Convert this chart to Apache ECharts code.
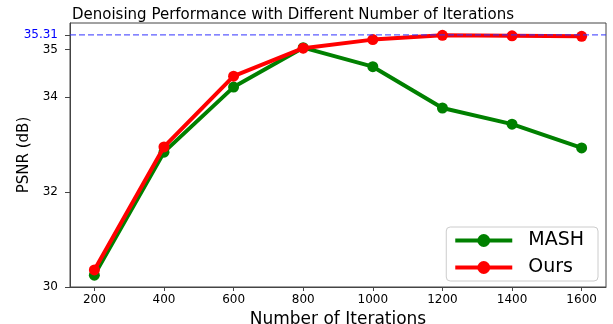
<!DOCTYPE html>
<html>
<head>
<meta charset="utf-8">
<script src="https://cdn.jsdelivr.net/npm/echarts@6/dist/echarts.min.js"></script>
<style>
  html, body { margin: 0; padding: 0; background: #fff; }
  #chart { width: 613px; height: 324px; }
</style>
</head>
<body>
<div id="chart"></div>
<script>
// iterations on x
var iterations = [200, 400, 600, 800, 1000, 1200, 1400, 1600];
var mashPsnr = [30.25, 32.84, 34.21, 35.04, 34.64, 33.77, 33.43, 32.93];
var oursPsnr = [30.36, 32.95, 34.44, 35.03, 35.21, 35.30, 35.29, 35.28];
var bestPsnr = 35.31;
var yTicks = [30, 32, 34, 35, 35.31];
var xTicks = [200, 400, 600, 800, 1000, 1200, 1400, 1600];
var xMin = 130, xMax = 1670;

var pairs = function (xs, ys) {
    return xs.map(function (x, i) { return [x, ys[i]]; });
};

var font = "DejaVu Sans";

var option = {
    animation: false,
    backgroundColor: '#fff',
    title: {
        text: 'Denoising Performance with Different Number of Iterations',
        left: 288,
        textAlign: 'center',
        top: 3,
        textStyle: { fontFamily: font, fontSize: 15, fontWeight: 'normal', color: '#000' }
    },
    grid: {
        left: 70, right: 7, top: 23, bottom: 37,
        containLabel: false,
        outerBoundsMode: 'none',
        show: true, borderColor: '#444', borderWidth: 1
    },
    legend: {
        orient: 'vertical',
        right: 15,
        bottom: 43,
        data: [
            { name: 'MASH', lineStyle: { width: 4 } },
            { name: 'Ours', lineStyle: { width: 4 } }
        ],
        itemWidth: 57,
        itemHeight: 16,
        itemGap: 8,
        padding: [4, 14, 4, 7],
        borderColor: '#ccc',
        borderWidth: 1,
        borderRadius: 4,
        backgroundColor: '#fff',
        z: 10,
        textStyle: { fontFamily: font, fontSize: 19, color: '#000', padding: [0, 0, 0, 11] }
    },
    xAxis: {
        type: 'value',
        min: xMin,
        max: xMax,
        name: 'Number of Iterations',
        nameLocation: 'middle',
        nameGap: 16,
        nameTextStyle: { fontFamily: font, fontSize: 17, color: '#000', verticalAlign: 'top' },
        axisLine: { lineStyle: { color: '#444' } },
        axisTick: { show: true, length: 4, customValues: xTicks, lineStyle: { color: '#444' } },
        axisLabel: {
            customValues: xTicks, margin: 7, fontFamily: font, fontSize: 12, color: '#000',
            formatter: function (v) { return String(v); }
        },
        splitLine: { show: false }
    },
    yAxis: {
        type: 'value',
        min: 30,
        max: 35.56,
        name: 'PSNR (dB)',
        nameLocation: 'middle',
        nameGap: 38,
        nameMoveOverlap: false,
        nameTextStyle: { fontFamily: font, fontSize: 15, color: '#000' },
        axisLine: { show: true, lineStyle: { color: '#444' } },
        axisTick: { show: true, length: 5, customValues: yTicks, lineStyle: { color: '#444' } },
        axisLabel: {
            customValues: yTicks,
            margin: 12,
            fontFamily: font,
            fontSize: 12,
            formatter: function (v) { return v == bestPsnr ? '35.31' : String(v); },
            color: function (v) { return v == bestPsnr ? '#0000ff' : '#000'; }
        },
        splitLine: { show: false }
    },
    series: [
        {
            name: 'MASH',
            type: 'line',
            data: pairs(iterations, mashPsnr),
            color: '#008000',
            symbol: 'circle',
            symbolSize: 11,
            z: 2,
            lineStyle: { width: 4 }
        },
        {
            name: 'Ours',
            type: 'line',
            data: pairs(iterations, oursPsnr),
            color: '#ff0000',
            symbol: 'circle',
            symbolSize: 11,
            z: 3,
            lineStyle: { width: 4 }
        },
        {
            // dashed reference line for best psnr, drawn over the curves
            name: 'best',
            type: 'line',
            silent: true,
            symbol: 'none',
            z: 4,
            data: [[xMin, bestPsnr], [xMax, bestPsnr]],
            color: '#3333ff',
            lineStyle: { color: '#3333ff', type: [6, 3], width: 1.2, opacity: 0.8 }
        }
    ]
};

var chart = echarts.init(document.getElementById('chart'));
chart.setOption(option);
</script>
</body>
</html>
